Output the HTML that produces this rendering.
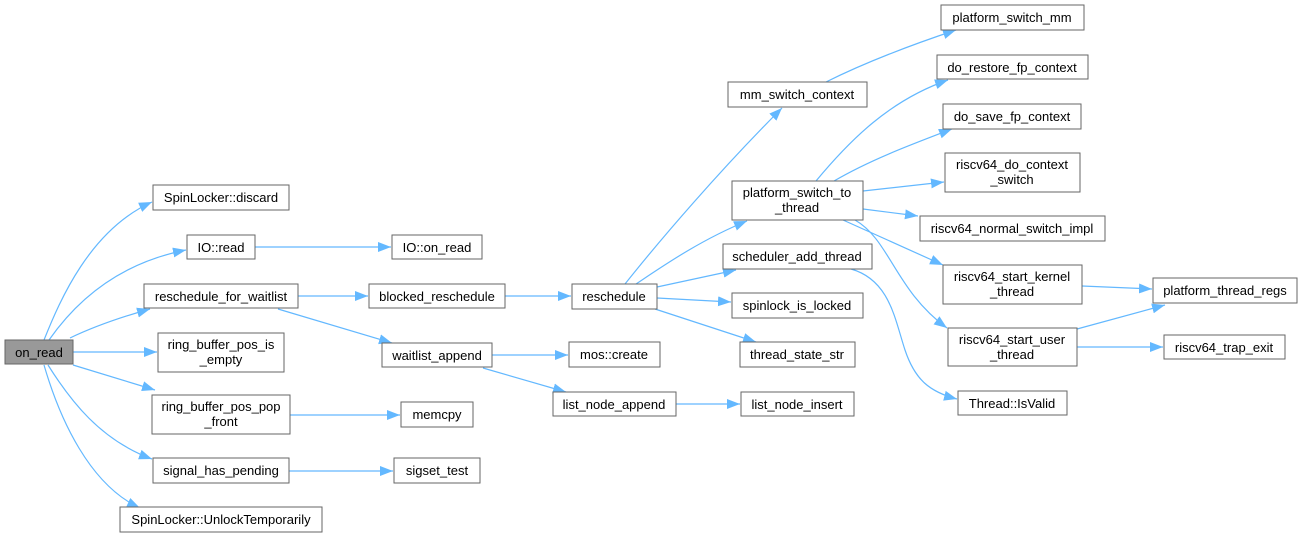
<!DOCTYPE html>
<html><head><meta charset="utf-8"><style>
html,body{margin:0;padding:0;background:#fff;}
svg{display:block;}
text{font-family:"Liberation Sans",Arial,sans-serif;font-size:13px;fill:#000;}
.n{fill:#fff;stroke:#666;stroke-width:1;}
.e{fill:none;stroke:#63b8ff;stroke-width:1.2;}
</style></head><body>
<svg width="1302" height="538" viewBox="0 0 1302 538" xmlns="http://www.w3.org/2000/svg">
<defs><marker id="a" markerUnits="userSpaceOnUse" markerWidth="14" markerHeight="12" refX="13" refY="6" orient="auto"><path d="M0,1 L13,6 L0,11 z" fill="#63b8ff"/></marker></defs>
<g class="e" marker-end="url(#a)">
<path d="M44,340 C60,300 90,230 152,202"/>
<path d="M49,340 C70,310 110,265 186,250"/>
<path d="M70,338 C95,326 125,316 150,309"/>
<path d="M73,352 L157,352"/>
<path d="M73,365 L155,390"/>
<path d="M48,365 C70,400 100,440 152,459"/>
<path d="M44,365 C60,420 90,485 140,508"/>
<path d="M255,247 L391,247"/>
<path d="M298,296 L368,296"/>
<path d="M278,309 L392,343"/>
<path d="M505,296 L571,296"/>
<path d="M492,355 L568,355"/>
<path d="M483,368 L566,392"/>
<path d="M290,415 L400,415"/>
<path d="M289,471 L393,471"/>
<path d="M676,404 L740,404"/>
<path d="M625,284 C660,240 720,170 782,108"/>
<path d="M636,284 C660,268 700,240 747,221"/>
<path d="M657,287 L736,270"/>
<path d="M657,298 L731,302"/>
<path d="M655,309 L756,342"/>
<path d="M826,82 C870,60 920,42 956,30"/>
<path d="M816,181 C850,140 890,100 948,80"/>
<path d="M834,181 C870,160 910,145 952,129"/>
<path d="M863,191 L944,182"/>
<path d="M863,209 L918,216"/>
<path d="M843,220 L943,265"/>
<path d="M855,220 C890,240 895,290 947,328"/>
<path d="M851,269 C890,280 895,320 905,350 C915,380 930,392 957,399"/>
<path d="M1082,286 L1152,289"/>
<path d="M1077,329 L1165,305"/>
<path d="M1077,347 L1163,347"/>
</g>
<rect x="5" y="340" width="68" height="24" fill="#999" stroke="#666"/><text x="39" y="357" text-anchor="middle">on_read</text>
<g text-anchor="middle">
<rect class="n" x="153" y="185" width="136" height="25"/><text x="221" y="202">SpinLocker::discard</text>
<rect class="n" x="187" y="235" width="68" height="24"/><text x="221" y="252">IO::read</text>
<rect class="n" x="392" y="235" width="90" height="24"/><text x="437" y="252">IO::on_read</text>
<rect class="n" x="144" y="284" width="154" height="24"/><text x="221" y="301">reschedule_for_waitlist</text>
<rect class="n" x="369" y="284" width="136" height="24"/><text x="437" y="301">blocked_reschedule</text>
<rect class="n" x="158" y="333" width="126" height="39"/><text x="221" y="349">ring_buffer_pos_is</text><text x="221" y="364">_empty</text>
<rect class="n" x="382" y="343" width="110" height="24"/><text x="437" y="360">waitlist_append</text>
<rect class="n" x="152" y="395" width="138" height="39"/><text x="221" y="411">ring_buffer_pos_pop</text><text x="221" y="426">_front</text>
<rect class="n" x="401" y="402" width="72" height="25"/><text x="437" y="419">memcpy</text>
<rect class="n" x="153" y="458" width="136" height="25"/><text x="221" y="475">signal_has_pending</text>
<rect class="n" x="394" y="458" width="86" height="25"/><text x="437" y="475">sigset_test</text>
<rect class="n" x="120" y="507" width="202" height="25"/><text x="221" y="524">SpinLocker::UnlockTemporarily</text>
<rect class="n" x="728" y="82" width="139" height="25"/><text x="797" y="99">mm_switch_context</text>
<rect class="n" x="732" y="181" width="131" height="39"/><text x="797" y="197">platform_switch_to</text><text x="797" y="212">_thread</text>
<rect class="n" x="723" y="244" width="149" height="25"/><text x="797" y="261">scheduler_add_thread</text>
<rect class="n" x="572" y="284" width="85" height="25"/><text x="614" y="301">reschedule</text>
<rect class="n" x="732" y="293" width="131" height="25"/><text x="797" y="310">spinlock_is_locked</text>
<rect class="n" x="569" y="342" width="91" height="25"/><text x="614" y="359">mos::create</text>
<rect class="n" x="740" y="342" width="115" height="25"/><text x="797" y="359">thread_state_str</text>
<rect class="n" x="553" y="392" width="123" height="24"/><text x="614" y="409">list_node_append</text>
<rect class="n" x="741" y="392" width="113" height="24"/><text x="797" y="409">list_node_insert</text>
<rect class="n" x="941" y="5" width="143" height="25"/><text x="1012" y="22">platform_switch_mm</text>
<rect class="n" x="937" y="55" width="151" height="24"/><text x="1012" y="72">do_restore_fp_context</text>
<rect class="n" x="943" y="104" width="138" height="25"/><text x="1012" y="121">do_save_fp_context</text>
<rect class="n" x="945" y="153" width="135" height="39"/><text x="1012" y="169">riscv64_do_context</text><text x="1012" y="184">_switch</text>
<rect class="n" x="920" y="216" width="185" height="25"/><text x="1012" y="233">riscv64_normal_switch_impl</text>
<rect class="n" x="943" y="265" width="139" height="39"/><text x="1012" y="281">riscv64_start_kernel</text><text x="1012" y="296">_thread</text>
<rect class="n" x="1153" y="278" width="144" height="25"/><text x="1225" y="295">platform_thread_regs</text>
<rect class="n" x="948" y="328" width="129" height="38"/><text x="1012" y="344">riscv64_start_user</text><text x="1012" y="359">_thread</text>
<rect class="n" x="1164" y="335" width="121" height="24"/><text x="1224" y="352">riscv64_trap_exit</text>
<rect class="n" x="958" y="391" width="109" height="24"/><text x="1012" y="408">Thread::IsValid</text>
</g>
</svg>
</body></html>
